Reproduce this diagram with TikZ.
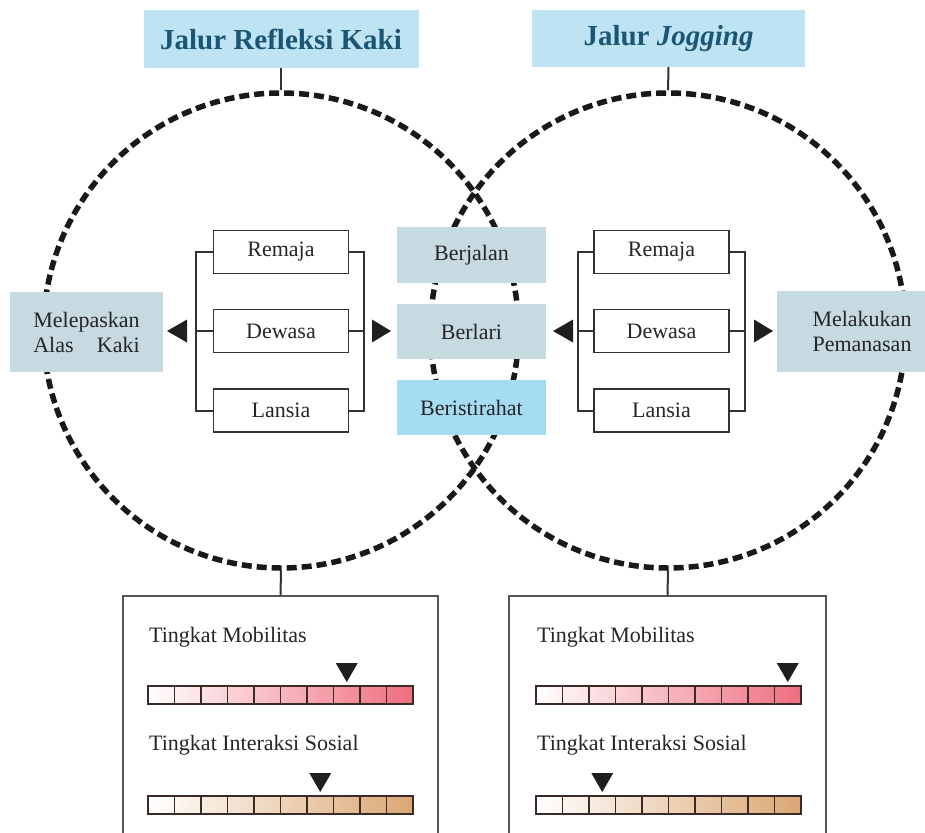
\documentclass[tikz,border=0pt]{standalone}
\usepackage{fontspec}
\setmainfont{Liberation Serif}
\usetikzlibrary{calc}

\definecolor{titlebg}{HTML}{BEE4F3}
\definecolor{titletext}{HTML}{1C5676}
\definecolor{actbg}{HTML}{C7D9E1}
\definecolor{restbg}{HTML}{A6DCF3}
\definecolor{textgray}{HTML}{262626}
\definecolor{linegray}{HTML}{333333}
\definecolor{panelline}{HTML}{555555}
\definecolor{mobend}{HTML}{EE6E7F}
\definecolor{socend}{HTML}{DBA773}
\definecolor{cellline}{HTML}{3A2B29}

\tikzset{
  labelfont/.style={font=\fontsize{22}{25}\selectfont, text=textgray},
  titlebox/.style={fill=titlebg, inner sep=0pt, text=titletext,
    font=\fontsize{29}{32}\selectfont\bfseries},
  actbox/.style={fill=actbg, inner sep=0pt, labelfont, align=center},
  restbox/.style={actbox, fill=restbg},
  agebox/.style={draw=linegray, line width=1.5pt, fill=white, inner sep=0pt,
    minimum width=135pt, minimum height=43pt, labelfont},
  ring/.style={circle, draw=black!90, line width=5.5pt,
    dash pattern=on 10pt off 5pt, minimum size=475pt, inner sep=0pt},
  link/.style={draw=linegray, line width=2pt},
  bracket/.style={draw=linegray, line width=2pt},
  pointer/.style={fill=black!88},
  panel/.style={draw=panelline, line width=1.5pt, fill=white, inner sep=0pt},
  cell/.style={draw=cellline, line width=1.8pt},
  caption/.style={labelfont, anchor=base west, inner sep=0pt}
}

% level bar: #1 left x, #2 top y, #3 end colour, #4 marked cell (1..10)
\newcommand{\levelbar}[4]{%
  \shade[left color=white, right color=#3] (#1,#2) rectangle ++(265,18);
  \foreach \i in {0,...,9} \draw[cell] ({#1+\i*26.5},#2) rectangle ++(26.5,18);
  \fill[pointer] ({#1+(#4-0.5)*26.5-11},{#2-23}) -- ++(22,0)
    -- ({#1+(#4-0.5)*26.5},{#2-4}) -- cycle;
}

\newlength\melwd

\begin{document}
\settowidth{\melwd}{\fontsize{22}{25}\selectfont Melepaskan}
\begin{tikzpicture}[x=1pt, y=-1pt]
  \useasboundingbox (0,0) rectangle (925,832);
  \clip (0,0) rectangle (925,832);

  % the two overlapping routes
  \node[ring] (ringL) at (281,330.5) {};
  \node[ring] (ringR) at (668,330.5) {};

  % titles
  \node[titlebox, minimum width=275pt, minimum height=58pt] (tL) at (281,39)
    {Jalur Refleksi Kaki};
  \node[titlebox, minimum width=273pt, minimum height=57pt] (tR) at (668.5,38.5)
    {Jalur \textit{Jogging}};
  \draw[link] (tL.south) -- (ringL.north);
  \draw[link] (tR.south) -- (ringR.north);

  % activities
  \node[actbox, minimum width=153pt, minimum height=80pt] (mel) at (86.5,332)
    {Melepaskan\\\makebox[\melwd][s]{Alas Kaki}};
  \node[actbox, minimum width=170pt, minimum height=81pt] (mlk) at (862,331.5)
    {Melakukan\\Pemanasan};
  \node[actbox, minimum width=149pt, minimum height=56pt] (jalan) at (471.5,255) {Berjalan};
  \node[actbox, minimum width=149pt, minimum height=55pt] (lari) at (471.5,331.5) {Berlari};
  \node[restbox, minimum width=149pt, minimum height=55pt] (rest) at (471.5,407.5) {Beristirahat};

  % age groups, left route
  \node[agebox] (aL1) at (281,252) {Remaja};
  \node[agebox] (aL2) at (281,331) {Dewasa};
  \node[agebox] (aL3) at (281,410.5) {Lansia};
  \draw[bracket] (aL1.west) -- ++(-17,0) |- (aL3.west);
  \draw[bracket] (aL2.west) -- ++(-17,0);
  \draw[bracket] (aL1.east) -- ++(15,0) |- (aL3.east);
  \draw[bracket] (aL2.east) -- ++(15,0);
  \fill[pointer] (167,331) -- (187,319.5) -- (187,342.5) -- cycle;
  \fill[pointer] (391,331) -- (372,319.5) -- (372,342.5) -- cycle;

  % age groups, right route
  \node[agebox] (aR1) at (661.5,252) {Remaja};
  \node[agebox] (aR2) at (661.5,331) {Dewasa};
  \node[agebox] (aR3) at (661.5,410.5) {Lansia};
  \draw[bracket] (aR1.west) -- ++(-15,0) |- (aR3.west);
  \draw[bracket] (aR2.west) -- ++(-15,0);
  \draw[bracket] (aR1.east) -- ++(15,0) |- (aR3.east);
  \draw[bracket] (aR2.east) -- ++(15,0);
  \fill[pointer] (553,331) -- (573,319.5) -- (573,342.5) -- cycle;
  \fill[pointer] (773,331) -- (754,319.5) -- (754,342.5) -- cycle;

  % rating panels
  \node[panel, anchor=north, minimum width=315pt, minimum height=260pt] (pL) at (280.5,595) {};
  \node[panel, anchor=north, minimum width=317pt, minimum height=260pt] (pR) at (667.5,595) {};
  \draw[link] (ringL.south) -- (pL.north);
  \draw[link] (ringR.south) -- (pR.north);

  \node[caption] (mobL) at (149,642) {Tingkat Mobilitas};
  \node[caption] (socL) at (149,750) {Tingkat Interaksi Sosial};
  \levelbar{148}{686}{mobend}{8}
  \levelbar{148}{796}{socend}{7}

  \node[caption] (mobR) at (537,642) {Tingkat Mobilitas};
  \node[caption] (socR) at (537,750) {Tingkat Interaksi Sosial};
  \levelbar{536}{686}{mobend}{10}
  \levelbar{536}{796}{socend}{3}
\end{tikzpicture}
\end{document}
